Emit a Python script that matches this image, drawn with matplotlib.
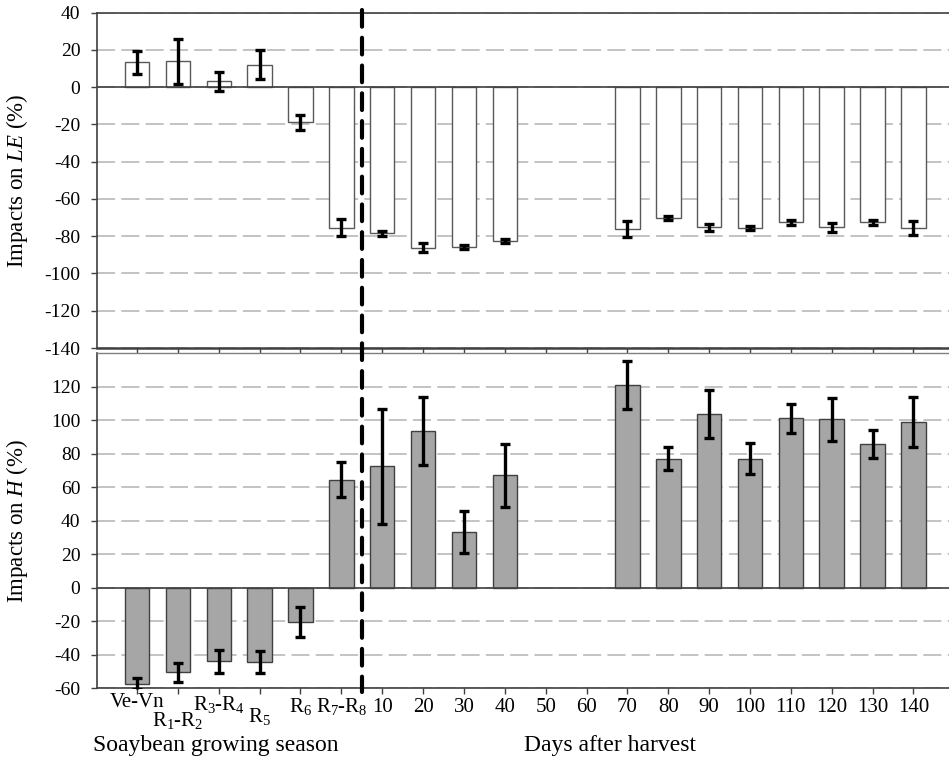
import numpy as np
import matplotlib
matplotlib.use('Agg')
import matplotlib.pyplot as plt
from matplotlib.lines import Line2D
from matplotlib.transforms import blended_transform_factory, ScaledTranslation

# ---------------- data ----------------
categories = ["Ve-Vn", "R$_1$-R$_2$", "R$_3$-R$_4$", "R$_5$", "R$_6$", "R$_7$-R$_8$",
              "10", "20", "30", "40", "50", "60", "70", "80", "90", "100",
              "110", "120", "130", "140"]
nan = np.nan
le_values = [13.5, 13.9, 3.1, 12.1, -18.9, -75.5, -78.5, -86.1, -85.7, -82.5,
             nan, nan, -76.2, -70.2, -75.3, -75.5, -72.5, -75.3, -72.6, -75.5]
le_errors = [6.2, 12.1, 5.3, 7.8, 4.0, 4.6, 1.4, 2.2, 1.0, 1.0,
             nan, nan, 4.2, 1.2, 2.0, 1.0, 1.3, 2.3, 1.2, 3.7]
h_values = [-57.3, -50.7, -44.0, -44.6, -20.6, 64.3, 72.3, 93.5, 33.4, 66.9,
            nan, nan, 120.8, 77.0, 103.4, 77.0, 101.0, 100.4, 85.5, 99.0]
h_errors = [3.0, 5.8, 6.8, 6.5, 9.1, 10.5, 34.3, 20.2, 12.5, 18.8,
            nan, nan, 14.4, 7.0, 14.3, 9.2, 8.7, 12.7, 8.4, 15.0]
le_ticks = list(range(-140, 41, 20))
h_ticks = list(range(-60, 121, 20))
le_label = "Impacts on $\\mathit{LE}$ (%)"
h_label = "Impacts on $\\mathit{H}$ (%)"
group_labels = ["Soaybean growing season", "Days after harvest"]

# ---------------- style ----------------
plt.rcParams.update({
    'font.family': ['Liberation Serif', 'DejaVu Serif'],
    'mathtext.fontset': 'custom',
    'mathtext.rm': 'Liberation Serif',
    'mathtext.it': 'Liberation Serif:italic',
    'mathtext.default': 'regular',
    'axes.unicode_minus': False,
    'lines.scale_dashes': False,
})

dark = '#404040'
grid_c = '#b3b3b3'

fig = plt.figure(figsize=(9.49, 7.60), dpi=100)
ax1 = fig.add_axes([0.1022, 0.5421, 0.8978, 0.4412])
ax2 = fig.add_axes([0.1022, 0.0947, 0.8978, 0.4408])
x = np.arange(len(categories))


def style(ax, ylim, ticks):
    ax.set_xlim(-0.98, 19.87)
    ax.set_ylim(*ylim)
    ax.set_yticks(ticks)
    ax.set_yticklabels([str(t) for t in ticks])
    ax.set_xticks(x)
    ax.set_axisbelow(True)
    ax.yaxis.grid(True, color=grid_c, linewidth=1.1, linestyle=(0, (13, 4.5)))
    ax.xaxis.grid(False)
    ax.spines['right'].set_visible(False)
    for s in ('left', 'top', 'bottom'):
        ax.spines[s].set_color(dark)
        ax.spines[s].set_linewidth(1.2)
    ax.tick_params(axis='y', direction='out', length=4.5, width=1, color=dark,
                   labelsize=14, pad=7.5)
    ax.tick_params(axis='x', direction='out', length=4.5, width=1, color=dark,
                   labelsize=15, pad=2.5)
    ax.axhline(0, color=dark, lw=1.2, zorder=2.5)


style(ax1, (-140, 40), le_ticks)
style(ax2, (-60, 140), h_ticks)

ax1.spines['bottom'].set_linewidth(1.8)
ax2.spines['top'].set_color('#808080')
ax2.spines['top'].set_linewidth(1.0)

# ---------------- bars ----------------
lv = np.array(le_values); le = np.array(le_errors)
hv = np.array(h_values); he = np.array(h_errors)
m1 = ~np.isnan(lv)
m2 = ~np.isnan(hv)

ax1.bar(x[m1], lv[m1], width=0.6, color='white', edgecolor='#595959',
        linewidth=1.0, zorder=2)
ax1.errorbar(x[m1], lv[m1], yerr=le[m1], fmt='none', ecolor='black',
             elinewidth=2.4, capsize=3.6, capthick=2.4, zorder=3)

ax2.bar(x[m2], hv[m2], width=0.6, color='#a6a6a6', edgecolor=dark,
        linewidth=1.0, zorder=2)
eb = ax2.errorbar(x[m2], hv[m2], yerr=he[m2], fmt='none', ecolor='black',
                  elinewidth=2.4, capsize=3.6, capthick=2.4, zorder=3)
for art in eb.lines[2]:
    art.set_clip_on(False)

# ---------------- tick labels ----------------
ax1.tick_params(axis='x', labelbottom=False)
ax2.set_xticklabels(categories)
label_dy_px = [-5, 12, -4, 8, -2, -2] + [0] * 14
for lab, dy in zip(ax2.get_xticklabels(), label_dy_px):
    lab.set_transform(lab.get_transform() +
                      ScaledTranslation(0, -dy / 100.0, fig.dpi_scale_trans))

ax1.set_ylabel(le_label, fontsize=16.5)
ax2.set_ylabel(h_label, fontsize=16.5)
ax1.yaxis.set_label_coords(-0.079, 0.5)
ax2.yaxis.set_label_coords(-0.079, 0.5)

fig.text(216 / 949, 9 / 760, group_labels[0], ha='center', va='baseline', fontsize=17)
fig.text(610 / 949, 9 / 760, group_labels[1], ha='center', va='baseline', fontsize=17)

# ---------------- separator ----------------
sep = Line2D([5.5, 5.5], [(760 - 10) / 760, (760 - 692) / 760],
             transform=blended_transform_factory(ax2.transData, fig.transFigure),
             color='black', lw=3, linestyle=(0, (12, 8)), dash_capstyle='round',
             zorder=10)
fig.add_artist(sep)

fig.savefig('out.png', dpi=100)
